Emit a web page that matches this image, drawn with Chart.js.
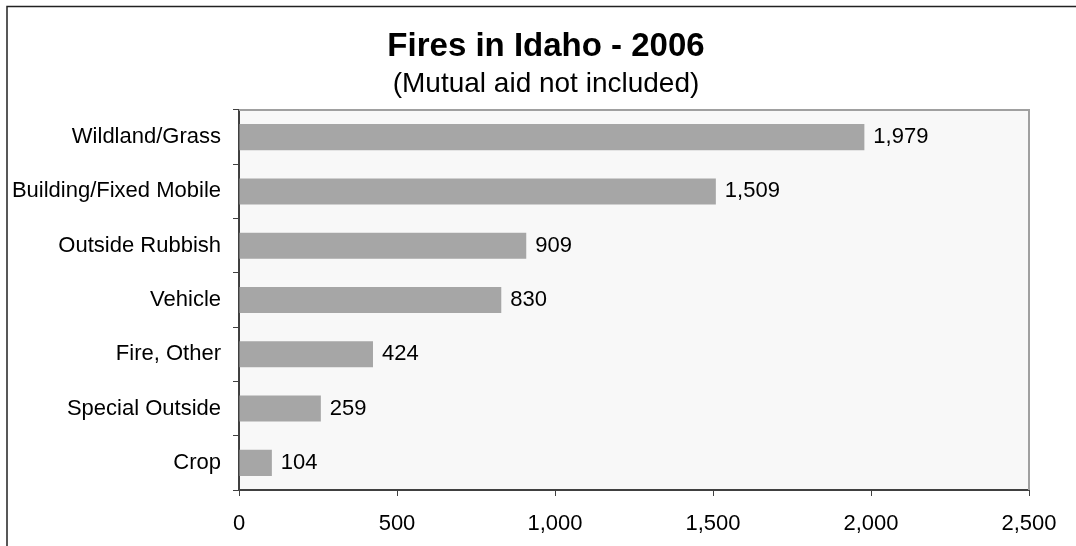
<!DOCTYPE html>
<html>
<head>
<meta charset="utf-8">
<title>Fires in Idaho - 2006</title>
<script src="https://cdn.jsdelivr.net/npm/chart.js@4.4.1/dist/chart.umd.min.js"></script>
<style>
  html, body { margin: 0; padding: 0; background: #ffffff; }
  canvas { display: block; }
</style>
</head>
<body>
<canvas id="myChart" width="1076" height="546"></canvas>
<script>
// Datos del gráfico
const categorias = ['Wildland/Grass', 'Building/Fixed Mobile', 'Outside Rubbish', 'Vehicle', 'Fire, Other', 'Special Outside', 'Crop'];
const incendios = [1979, 1509, 909, 830, 424, 259, 104];
const ejeMin = 0;
const ejeMax = 2500;
const ejePaso = 500;
const titulo = 'Fires in Idaho - 2006';
const subtitulo = '(Mutual aid not included)';

const fuente = "'Liberation Sans', Arial, sans-serif";
const formato = v => Number(v).toLocaleString('en-US');

// Fondo del área de trazado, bordes, marco exterior y títulos
const fondoPlugin = {
    id: 'fondo',
    beforeDraw(chart) {
        const { ctx, chartArea: a } = chart;
        ctx.save();
        ctx.fillStyle = '#f8f8f8';
        ctx.fillRect(a.left, a.top, a.right - a.left, a.bottom - a.top);
        ctx.restore();
    },
    afterDraw(chart) {
        const { ctx, chartArea: a } = chart;
        ctx.save();
        // borde superior y derecho del área
        ctx.strokeStyle = '#a0a0a0';
        ctx.lineWidth = 2;
        ctx.beginPath();
        ctx.moveTo(a.left, a.top);
        ctx.lineTo(a.right, a.top);
        ctx.lineTo(a.right, a.bottom);
        ctx.stroke();
        // marco exterior
        ctx.strokeStyle = '#222222';
        ctx.lineWidth = 1.5;
        ctx.beginPath();
        ctx.moveTo(7, chart.height);
        ctx.lineTo(7, 6.5);
        ctx.lineTo(chart.width, 6.5);
        ctx.stroke();
        // título y subtítulo (centrados como en el original)
        ctx.fillStyle = '#000000';
        ctx.textAlign = 'center';
        ctx.textBaseline = 'middle';
        ctx.font = 'bold 33px ' + fuente;
        ctx.fillText(titulo, 546, 47);
        ctx.font = '28px ' + fuente;
        ctx.fillText(subtitulo, 546, 84);
        ctx.restore();
    }
};

// Etiquetas de valor al final de cada barra
const etiquetasPlugin = {
    id: 'etiquetas',
    afterDatasetsDraw(chart) {
        const { ctx } = chart;
        const meta = chart.getDatasetMeta(0);
        ctx.save();
        ctx.font = '22px ' + fuente;
        ctx.fillStyle = '#000000';
        ctx.textAlign = 'left';
        ctx.textBaseline = 'middle';
        meta.data.forEach((bar, i) => {
            ctx.fillText(formato(incendios[i]), bar.x + 9, bar.y);
        });
        ctx.restore();
    }
};

const ctx = document.getElementById('myChart').getContext('2d');
const myChart = new Chart(ctx, {
    type: 'bar',
    data: {
        labels: categorias,
        datasets: [{
            data: incendios,
            backgroundColor: '#a6a6a6',
            borderWidth: 0,
            barPercentage: 0.48,
            categoryPercentage: 1
        }]
    },
    options: {
        indexAxis: 'y',
        responsive: false,
        animation: false,
        layout: {
            padding: { top: 110, left: 0, right: 47, bottom: 0 }
        },
        plugins: {
            legend: { display: false },
            tooltip: { enabled: false },
            title: { display: false }
        },
        scales: {
            x: {
                min: ejeMin,
                max: ejeMax,
                ticks: {
                    stepSize: ejePaso,
                    color: '#000000',
                    font: { family: fuente, size: 22 },
                    padding: 15,
                    maxRotation: 0,
                    callback: v => formato(v)
                },
                grid: {
                    drawOnChartArea: false,
                    color: '#404040',
                    tickLength: 6
                },
                border: { display: true, color: '#404040', width: 2 },
                afterFit(scale) { scale.height = 56; }
            },
            y: {
                ticks: {
                    color: '#000000',
                    font: { family: fuente, size: 22 },
                    padding: 12
                },
                grid: {
                    drawOnChartArea: false,
                    color: '#404040',
                    tickLength: 6
                },
                border: { display: true, color: '#404040', width: 2 },
                afterFit(scale) { scale.width = 239; }
            }
        }
    },
    plugins: [fondoPlugin, etiquetasPlugin]
});
</script>
</body>
</html>
